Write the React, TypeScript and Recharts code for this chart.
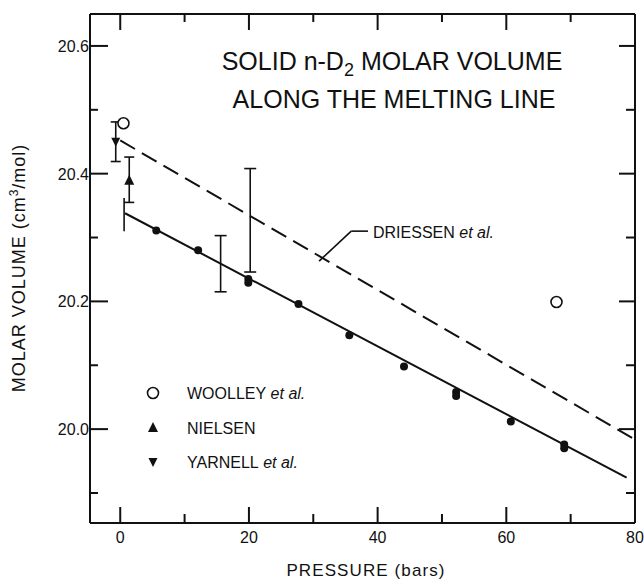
import React from 'react';
import { ScatterChart, Scatter, XAxis, YAxis, ErrorBar, ReferenceLine } from 'recharts';

// solid curve (this work) and dashed curve (Driessen et al.), end points
const fitPressure = [0.75, 78.7];
const fitVolume = [20.338, 19.924];
const driessenPressure = [0, 79.6];
const driessenVolume = [20.452, 19.986];

// filled dots on the solid curve
const dotPressure = [5.6, 12.1, 19.9, 19.9, 27.7, 35.6, 44.1, 52.2, 52.2, 60.7, 69.0, 69.0];
const dotVolume = [20.311, 20.28, 20.235, 20.229, 20.196, 20.147, 20.098, 20.058, 20.052, 20.012, 19.976, 19.97];

// Woolley et al. (open circles)
const woolleyPressure = [0.5, 67.8];
const woolleyVolume = [20.479, 20.199];

// Nielsen (up triangle) with error bar
const nielsenPressure = [1.4];
const nielsenVolume = [20.389];
const nielsenLow = [20.355];
const nielsenHigh = [20.426];

// Yarnell et al. (down triangle) with error bar
const yarnellPressure = [-0.7];
const yarnellVolume = [20.45];
const yarnellLow = [20.419];
const yarnellHigh = [20.481];

// error bars without a marker
const barPressure = [15.6, 20.2];
const barLow = [20.215, 20.246];
const barHigh = [20.303, 20.408];
const stemPressure = [0.6];
const stemLow = [20.31];
const stemHigh = [20.362];

// leader line to the DRIESSEN label
const leaderPressure = [30.9, 35.9, 38.5];
const leaderVolume = [20.263, 20.31, 20.31];

const xTicks = [0, 10, 20, 30, 40, 50, 60, 70, 80];
const topTicks = [0, 10, 20, 30, 40, 50, 60, 70];
const yTicks = [19.9, 20.0, 20.1, 20.2, 20.3, 20.4, 20.5, 20.6];

const INK = '#111';
const FONT = '"Liberation Sans", Arial, sans-serif';

const pts = (ps: number[], vs: number[]) => ps.map((p, i) => ({ p, v: vs[i] }));
const withErr = (ps: number[], vs: number[], lo: number[], hi: number[]) =>
  ps.map((p, i) => ({ p, v: vs[i], err: [vs[i] - lo[i], hi[i] - vs[i]] }));
const bare = (ps: number[], lo: number[], hi: number[]) =>
  ps.map((p, i) => {
    const v = (lo[i] + hi[i]) / 2;
    return { p, v, err: [v - lo[i], hi[i] - v] };
  });

const Dot = (props: any) => <circle cx={props.cx} cy={props.cy} r={4} fill={INK} />;
const Ring = (props: any) => (
  <circle cx={props.cx} cy={props.cy} r={5.5} fill="#fff" stroke={INK} strokeWidth={1.6} />
);
const Up = ({ cx, cy }: any) => <path d={`M${cx},${cy - 6}L${cx + 5},${cy + 4}L${cx - 5},${cy + 4}Z`} fill={INK} />;
const Down = ({ cx, cy }: any) => <path d={`M${cx},${cy + 5}L${cx + 4.5},${cy - 4}L${cx - 4.5},${cy - 4}Z`} fill={INK} />;
const Nothing = () => <g />;

// tick marks point into the frame; long ones at labelled values
const BottomTick = ({ x, y, payload }: any) => {
  const major = payload.value % 20 === 0;
  return (
    <g>
      <path d={`M${x},${y}V${y - (major ? 16 : 9)}`} stroke={INK} strokeWidth={2} fill="none" />
      {major && (
        <text x={x} y={y + 20} textAnchor="middle" fontSize={16} fontFamily={FONT} fill={INK}>
          {payload.value}
        </text>
      )}
    </g>
  );
};

const TopTick = ({ x, y, payload }: any) => {
  const major = payload.value % 20 === 0;
  return <path d={`M${x},${y}V${y + (major ? 16 : 8)}`} stroke={INK} strokeWidth={2} fill="none" />;
};

const LeftTick = ({ x, y, payload }: any) => {
  const major = Math.round(payload.value * 10) % 2 === 0;
  return (
    <g>
      <path d={`M${x},${y}H${x + (major ? 18 : 8)}`} stroke={INK} strokeWidth={2} fill="none" />
      {major && (
        <text x={x - 1} y={y + 6} textAnchor="end" fontSize={16} fontFamily={FONT} fill={INK}>
          {payload.value.toFixed(1)}
        </text>
      )}
    </g>
  );
};

const RightTick = ({ x, y, payload }: any) => {
  const major = Math.round(payload.value * 10) % 2 === 0;
  return <path d={`M${x},${y}H${x - (major ? 16 : 9)}`} stroke={INK} strokeWidth={2} fill="none" />;
};

const legendRows = [
  { name: 'WOOLLEY', suffix: ' et al.', mark: 'ring', y: 393 },
  { name: 'NIELSEN', suffix: '', mark: 'up', y: 428 },
  { name: 'YARNELL', suffix: ' et al.', mark: 'down', y: 462 },
];

export default function App() {
  const axis = { xAxisId: 'b', yAxisId: 'l' };
  return (
    <div style={{ position: 'absolute', left: 0, top: 0, width: 644, height: 582, background: '#fff' }}>
      <ScatterChart width={644} height={582} margin={{ top: 13, right: 8, bottom: 29, left: 50 }}>
        <XAxis xAxisId="b" type="number" dataKey="p" domain={[-4.7, 80]} ticks={xTicks} interval={0}
          allowDataOverflow tick={BottomTick} tickLine={false} tickSize={0} tickMargin={0} height={30}
          axisLine={{ stroke: INK, strokeWidth: 2 }} />
        <XAxis xAxisId="t" orientation="top" type="number" dataKey="p" domain={[-4.7, 80]} ticks={topTicks}
          interval={0} allowDataOverflow tick={TopTick} tickLine={false} tickSize={0} tickMargin={0} height={1}
          axisLine={{ stroke: INK, strokeWidth: 2 }} />
        <YAxis yAxisId="l" type="number" dataKey="v" domain={[19.853, 20.65]} ticks={yTicks} interval={0}
          allowDataOverflow tick={LeftTick} tickLine={false} tickSize={0} tickMargin={0} width={40}
          axisLine={{ stroke: INK, strokeWidth: 2 }} />
        <YAxis yAxisId="r" orientation="right" type="number" dataKey="v" domain={[19.853, 20.65]} ticks={yTicks}
          interval={0} allowDataOverflow tick={RightTick} tickLine={false} tickSize={0} tickMargin={0} width={1}
          axisLine={{ stroke: INK, strokeWidth: 2 }} />

        <Scatter {...axis} data={pts(driessenPressure, driessenVolume)} shape={Nothing} fill={INK}
          line={{ stroke: INK, strokeWidth: 2, strokeDasharray: '17 8' }} isAnimationActive={false} />
        <Scatter {...axis} data={pts(fitPressure, fitVolume)} shape={Nothing} fill={INK}
          line={{ stroke: INK, strokeWidth: 2 }} isAnimationActive={false} />

        {[0, 1].map((i) => (
          <ReferenceLine key={i} {...axis} stroke={INK} strokeWidth={1.6} ifOverflow="visible"
            segment={[
              { x: leaderPressure[i], y: leaderVolume[i] },
              { x: leaderPressure[i + 1], y: leaderVolume[i + 1] },
            ]} />
        ))}

        <Scatter {...axis} data={bare(barPressure, barLow, barHigh)} shape={Nothing} isAnimationActive={false}>
          <ErrorBar dataKey="err" direction="y" width={6} stroke={INK} strokeWidth={1.6} isAnimationActive={false} />
        </Scatter>
        <Scatter {...axis} data={bare(stemPressure, stemLow, stemHigh)} shape={Nothing} isAnimationActive={false}>
          <ErrorBar dataKey="err" direction="y" width={0} stroke={INK} strokeWidth={1.6} isAnimationActive={false} />
        </Scatter>
        <Scatter {...axis} data={withErr(nielsenPressure, nielsenVolume, nielsenLow, nielsenHigh)} shape={Up}
          isAnimationActive={false}>
          <ErrorBar dataKey="err" direction="y" width={5} stroke={INK} strokeWidth={1.6} isAnimationActive={false} />
        </Scatter>
        <Scatter {...axis} data={withErr(yarnellPressure, yarnellVolume, yarnellLow, yarnellHigh)} shape={Down}
          isAnimationActive={false}>
          <ErrorBar dataKey="err" direction="y" width={5} stroke={INK} strokeWidth={1.6} isAnimationActive={false} />
        </Scatter>
        <Scatter {...axis} data={pts(dotPressure, dotVolume)} shape={Dot} isAnimationActive={false} />
        <Scatter {...axis} data={pts(woolleyPressure, woolleyVolume)} shape={Ring} isAnimationActive={false} />

        {/* title, labels, legend */}
        <g fontFamily={FONT} fill={INK}>
          <text x={392} y={70} textAnchor="middle" fontSize={25}>
            SOLID n-D<tspan dy={6} fontSize={18}>2</tspan>
            <tspan dy={-6}> MOLAR VOLUME</tspan>
          </text>
          <text x={394} y={108} textAnchor="middle" fontSize={25}>ALONG THE MELTING LINE</text>
          <text x={373} y={238} fontSize={16}>
            DRIESSEN <tspan fontStyle="italic">et al.</tspan>
          </text>
          {legendRows.map((r) => (
            <g key={r.name}>
              {r.mark === 'ring' && <Ring cx={153} cy={r.y} />}
              {r.mark === 'up' && <Up cx={153} cy={r.y} />}
              {r.mark === 'down' && <Down cx={153} cy={r.y} />}
              <text x={187} y={r.y + 6} fontSize={16}>
                {r.name}
                {r.suffix && <tspan fontStyle="italic">{r.suffix}</tspan>}
              </text>
            </g>
          ))}
          <text x={366} y={576} textAnchor="middle" fontSize={17} letterSpacing={1.1}>PRESSURE (bars)</text>
          <text x={25} y={268} textAnchor="middle" fontSize={18} letterSpacing={1} transform="rotate(-90 25 268)">
            MOLAR VOLUME (cm<tspan dy={-7} fontSize={12}>3</tspan>
            <tspan dy={7}>/mol)</tspan>
          </text>
        </g>
      </ScatterChart>
    </div>
  );
}
